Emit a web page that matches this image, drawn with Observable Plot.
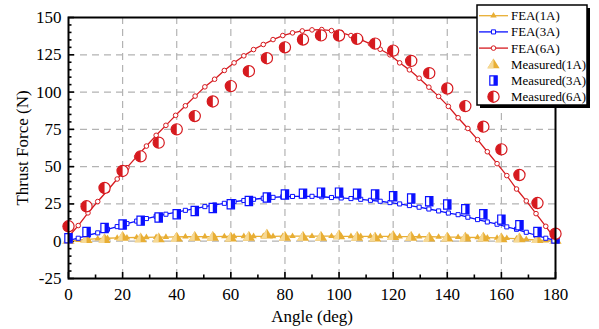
<!DOCTYPE html>
<html><head><meta charset="utf-8">
<script src="https://cdn.jsdelivr.net/npm/d3@7"></script>
<script src="https://cdn.jsdelivr.net/npm/@observablehq/plot@0.6"></script>
<style>
body{margin:0;background:#fff;}
#wrap{position:relative;width:599px;height:329px;font-family:"Liberation Serif","Times New Roman",serif;}
#legend{position:absolute;left:476px;top:4px;}
</style></head>
<body><div id="wrap"><div id="chart"></div><div id="legend"></div></div>
<script>
// ---- data ----
const feaAngle = [0,3.6,7.2,10.8,14.4,18,21.6,25.2,28.8,32.4,36,39.6,43.2,46.8,50.4,54,57.6,61.2,64.8,68.4,72,75.6,79.2,82.8,86.4,90,93.6,97.2,100.8,104.4,108,111.6,115.2,118.8,122.4,126,129.6,133.2,136.8,140.4,144,147.6,151.2,154.8,158.4,162,165.6,169.2,172.8,176.4,180];
const fea1 = [0.2,0.8,1.3,1.7,2.0,2.2,2.4,2.5,2.6,2.7,2.8,2.9,3.0,3.0,3.1,3.1,3.2,3.2,3.3,3.3,3.3,3.3,3.4,3.4,3.4,3.4,3.4,3.4,3.3,3.3,3.3,3.3,3.2,3.2,3.1,3.1,3.0,3.0,2.9,2.8,2.7,2.6,2.5,2.4,2.2,2.0,1.7,1.3,0.8,0.4,0.1];
const fea3 = [0.5,2,4,5.6,8,9.8,11.8,13.5,15.2,16.7,18.1,19.4,20.7,21.9,23.2,24.3,25.4,26.5,27.3,28.1,28.8,29.4,29.8,30,30.1,30.1,29.8,29.3,29.0,28.6,28.1,27.4,26.8,25.9,25,23.9,22.8,21.6,20.3,18.9,17.8,16.1,14.5,12.9,11.4,9.6,8,6,4,2,0.5];
const fea6 = [3,10.5,19,26.6,34,41.7,49.3,56.7,63.8,71,77.7,84.4,90.8,97.3,103.5,108.6,114.5,119.6,124.3,128.5,131.9,135.2,137.9,139.7,141,141.7,141.9,141.2,139.9,137.9,135.2,132.3,128.7,125,119.6,114.9,109.3,103.3,97.1,90.4,82.8,75.6,68.1,60,52,44,35,27,18.5,10,1];
const measAngle = [0,6.67,13.33,20,26.67,33.33,40,46.67,53.33,60,66.67,73.33,80,86.67,93.33,100,106.67,113.33,120,126.67,133.33,140,146.67,153.33,160,166.67,173.33,180];
const meas1 = [1,1.5,1.5,3,2,2,2.5,3,3,2.5,3,4.5,3,3,3,4,3,2.5,3.5,3,2.5,2.5,2.5,2.5,2,2,1.5,1];
const meas3 = [2,6.2,8.9,11.2,13.8,15.9,18.1,20.3,22.3,24.8,27,29.3,31.3,31.9,32.6,32.6,31.9,31.3,30.1,28.6,26.8,24.6,21.4,18.1,14.5,10.7,6.2,1.8];
const meas6 = [10,23.4,35.7,47.1,56.9,66.1,75,83.9,93.7,104,114,122.7,130,135.2,138,137.9,135.7,132.5,127.8,120.9,112.7,102.4,90.6,76.8,61.6,44.4,25.6,5];
const xTicks = [0,20,40,60,80,100,120,140,160,180];
const xMinor = [10,30,50,70,90,110,130,150,170];
const yTicks = [-25,0,25,50,75,100,125,150];
const yMinor = [-20,-15,-10,-5,5,10,15,20,30,35,40,45,55,60,65,70,80,85,90,95,105,110,115,120,130,135,140,145];
const xGrid = [20,40,60,80,100,120,140,160];
const yGrid = [0,25,50,75,100,125];
const seriesNames = ["FEA(1A)","FEA(3A)","FEA(6A)","Measured(1A)","Measured(3A)","Measured(6A)"];

const red = "#d61a1f", blue = "#0a10ff", orange = "#e8ae34", orangeLight = "#f6d995";
const toRows = (xs, ys) => xs.map((a, i) => ({a, v: ys[i]}));
const f1 = toRows(feaAngle, fea1), f3 = toRows(feaAngle, fea3), f6 = toRows(feaAngle, fea6);
const m1 = toRows(measAngle, meas1), m3 = toRows(measAngle, meas3), m6 = toRows(measAngle, meas6);

// ---- custom symbols ----
const rad = s => Math.sqrt(s / Math.PI);
const halfCircleL = {draw(c, s){const r = rad(s); c.moveTo(0,-r); c.arc(0,0,r,-Math.PI/2,Math.PI/2,true); c.closePath();}};
const rectFull = {draw(c, s){const r = rad(s); c.rect(-0.8*r,-r,1.6*r,2*r);}};
const rectRight = {draw(c, s){const r = rad(s); c.rect(0,-r,0.8*r,2*r);}};
const triFull = {draw(c, s){const r = rad(s); c.moveTo(0,-r); c.lineTo(1.05*r,0.7*r); c.lineTo(-1.05*r,0.7*r); c.closePath();}};
const triLeft = {draw(c, s){const r = rad(s); c.moveTo(0,-r); c.lineTo(0,0.7*r); c.lineTo(-1.05*r,0.7*r); c.closePath();}};

const fontFam = '"Liberation Serif","Times New Roman",Tinos,Times,serif';
const gridStyle = {stroke:"#b3b3b3", strokeOpacity:1, strokeDasharray:"7,5", strokeWidth:1.2};
const blank = () => "";

const chart = Plot.plot({
  width: 599, height: 329,
  marginLeft: 68, marginRight: 44, marginTop: 17, marginBottom: 51,
  style: {fontFamily: fontFam, fontSize: "17px", background: "#fff", color: "#000"},
  x: {domain: [0, 180], label: null},
  y: {domain: [-25, 150], label: null},
  marks: [
    Plot.gridX(xGrid, gridStyle),
    Plot.gridY(yGrid, gridStyle),
    Plot.axisX(xTicks, {tickSize: 0, tickPadding: 9, tickFormat: d => String(d), label: "Angle (deg)", labelAnchor: "center", labelOffset: 43, labelArrow: "none"}),
    Plot.axisX(xTicks, {tickSize: -6, tickFormat: blank, label: null, strokeWidth: 1.6}),
    Plot.axisX(xMinor, {tickSize: -3.5, tickFormat: blank, label: null, strokeWidth: 1.6}),
    Plot.axisY(yTicks, {tickSize: 0, tickPadding: 7, tickFormat: d => String(d), label: "Thrust Force (N)", labelAnchor: "center", labelOffset: 53, labelArrow: "none"}),
    Plot.axisY(yTicks, {tickSize: -6, tickFormat: blank, label: null, strokeWidth: 1.6}),
    Plot.axisY(yMinor, {tickSize: -3.5, tickFormat: blank, label: null, strokeWidth: 1.6}),
    // FEA
    Plot.line(f1, {x: "a", y: "v", stroke: orange, strokeWidth: 1.3}),
    Plot.dot(f1, {x: "a", y: "v", symbol: "triangle", r: 2.4, fill: orange, stroke: "none"}),
    Plot.line(f3, {x: "a", y: "v", stroke: blue, strokeWidth: 1.3}),
    Plot.dot(f3, {x: "a", y: "v", symbol: "square", r: 2.3, fill: "white", stroke: blue, strokeWidth: 1}),
    Plot.line(f6, {x: "a", y: "v", stroke: red, strokeWidth: 1.3}),
    Plot.dot(f6, {x: "a", y: "v", r: 2.3, fill: "white", stroke: red, strokeWidth: 1}),
    // Measured
    Plot.dot(m1, {x: "a", y: "v", symbol: triFull, r: 5.8, fill: orange, stroke: "none"}),
    Plot.dot(m1, {x: "a", y: "v", symbol: triLeft, r: 5.8, fill: orangeLight, stroke: "none"}),
    Plot.dot(m3, {x: "a", y: "v", symbol: rectFull, r: 4.6, fill: "white", stroke: blue, strokeWidth: 1.2}),
    Plot.dot(m3, {x: "a", y: "v", symbol: rectRight, r: 4.6, fill: blue, stroke: "none"}),
    Plot.dot(m6, {x: "a", y: "v", r: 5.6, fill: "white", stroke: red, strokeWidth: 1.2}),
    Plot.dot(m6, {x: "a", y: "v", symbol: halfCircleL, r: 5.6, fill: red, stroke: "none"}),
    Plot.frame({stroke: "#000", strokeWidth: 2})
  ]
});
document.getElementById("chart").appendChild(chart);

// ---- legend ----
const L = d3.select("#legend").append("svg").attr("width", 115).attr("height", 105)
  .style("font-family", fontFam);
L.append("rect").attr("x", 4).attr("y", 4).attr("width", 110).attr("height", 100).attr("fill", "#000");
L.append("rect").attr("x", 1).attr("y", 1).attr("width", 110).attr("height", 100).attr("fill", "#fff").attr("stroke", "#000").attr("stroke-width", 1.5);
const rowY = i => 11.7 + i * 16.2;
const sym = (type, r) => d3.symbol().type(type).size(r * r * Math.PI)();
const swatches = [
  g => { g.append("line").attr("x1",3).attr("x2",32).attr("stroke",orange).attr("stroke-width",1.3); g.append("path").attr("transform","translate(17.5,0)").attr("d",sym(d3.symbolTriangle,2.4)).attr("fill",orange); },
  g => { g.append("line").attr("x1",3).attr("x2",32).attr("stroke",blue).attr("stroke-width",1.3); g.append("path").attr("transform","translate(17.5,0)").attr("d",sym(d3.symbolSquare,2.3)).attr("fill","white").attr("stroke",blue); },
  g => { g.append("line").attr("x1",3).attr("x2",32).attr("stroke",red).attr("stroke-width",1.3); g.append("circle").attr("cx",17.5).attr("r",2.3).attr("fill","white").attr("stroke",red); },
  g => { g.append("path").attr("transform","translate(17.5,0)").attr("d",sym(triFull,5.8)).attr("fill",orange); g.append("path").attr("transform","translate(17.5,0)").attr("d",sym(triLeft,5.8)).attr("fill",orangeLight); },
  g => { g.append("path").attr("transform","translate(17.5,0)").attr("d",sym(rectFull,4.6)).attr("fill","white").attr("stroke",blue).attr("stroke-width",1.2); g.append("path").attr("transform","translate(17.5,0)").attr("d",sym(rectRight,4.6)).attr("fill",blue); },
  g => { g.append("circle").attr("cx",17.5).attr("r",5.6).attr("fill","white").attr("stroke",red).attr("stroke-width",1.2); g.append("path").attr("transform","translate(17.5,0)").attr("d",sym(halfCircleL,5.6)).attr("fill",red); }
];
seriesNames.forEach((name, i) => {
  const g = L.append("g").attr("transform", `translate(0,${rowY(i)})`);
  swatches[i](g);
  g.append("text").attr("x", 35).attr("dy", "0.35em").style("font-size", "12.9px").attr("fill", "#000").text(name);
});
</script>
</body></html>
